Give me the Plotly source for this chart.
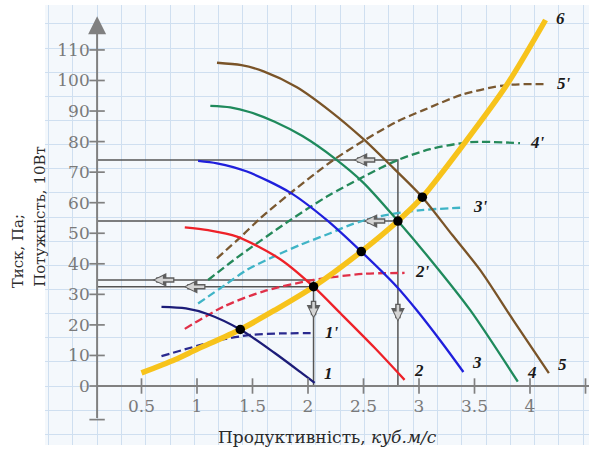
import plotly.graph_objects as go

# ---------------- data ----------------
q1 = [0.68, 0.9, 1.1, 1.39, 1.7, 1.93, 2.06]
h1 = [25.9, 25.4, 23.5, 18.5, 10.8, 4.6, 1.0]
q1p = [0.68, 1.0, 1.2, 1.48, 1.75, 2.06]
p1 = [9.8, 13.1, 15.0, 16.7, 17.2, 17.3]

q2 = [0.89, 1.1, 1.36, 1.75, 2.05, 2.3, 2.6, 2.87]
h2 = [51.9, 51.0, 48.9, 41.5, 32.5, 23.5, 12.5, 2.0]
q2p = [0.89, 1.24, 1.6, 2.05, 2.5, 2.87]
p2 = [18.7, 26.0, 31.0, 34.7, 36.7, 37.0]

q3 = [1.01, 1.18, 1.45, 1.84, 2.17, 2.48, 2.80, 2.98, 3.2, 3.40]
h3 = [73.7, 72.9, 70.2, 63.3, 54.3, 44.0, 32.5, 24.8, 14.5, 4.6]
q3p = [1.01, 1.25, 1.45, 1.7, 1.93, 2.2, 2.4, 2.65, 3.0, 3.40]
p3 = [27.0, 33.0, 38.0, 42.5, 46.2, 50.0, 53.0, 55.6, 57.5, 58.4]

q4 = [1.12, 1.3, 1.48, 1.7, 1.95, 2.24, 2.5, 2.81, 3.1, 3.46, 3.89]
h4 = [91.7, 91.2, 89.6, 86.5, 81.8, 74.5, 66.5, 54.0, 41.5, 24.9, 1.4]
q4p = [1.10, 1.36, 1.84, 2.17, 2.5, 2.81, 3.1, 3.46, 3.91]
p4 = [34.7, 42.0, 54.3, 62.0, 68.5, 74.0, 77.5, 79.8, 79.5]

q5 = [1.18, 1.4, 1.6, 1.9, 2.2, 2.5, 2.77, 3.03, 3.3, 3.55, 3.85, 4.17]
h5 = [105.8, 105.0, 103.0, 97.8, 90.0, 80.8, 71.3, 61.8, 49.4, 38.0, 21.5, 4.2]
q5p = [1.18, 1.4, 1.57, 1.84, 2.23, 2.51, 2.8, 3.04, 3.4, 3.79, 4.15]
p5 = [41.8, 49.0, 54.9, 63.1, 74.0, 80.5, 86.5, 90.3, 95.5, 98.5, 98.8]

q6 = [0.5, 0.8, 1.0, 1.39, 1.7, 2.05, 2.48, 2.81, 3.03, 3.41, 3.79, 4.14]
h6 = [4.3, 8.6, 12.0, 18.5, 24.8, 32.5, 44.0, 54.0, 61.8, 79.5, 98.5, 119.8]

# operating points (intersections with curve 6)
op_q = [1.39, 2.05, 2.48, 2.81, 3.03]
op_h = [18.5, 32.5, 44.0, 54.0, 61.8]

# read-off guides
guide_q = [2.05, 2.81]
guide_power = [34.7, 74.0]
guide_head = [32.5, 54.0]
# arrow heads (left arrows: q of the tip; down arrows: h of the tip)
arrow_q_power = [0.60, 2.41]
arrow_q_head = [0.88, 2.50]
arrow_h_down = [22.0, 21.0]
ARROW_LEN_Q = 0.21
ARROW_LEN_H = 6.4

x_ticks = [0.5, 1, 1.5, 2, 2.5, 3, 3.5, 4, 4.5]
x_tick_text = ["0.5", "1", "1.5", "2", "2.5", "3", "3.5", "4", "4.5"]
y_ticks = [0, 10, 20, 30, 40, 50, 60, 70, 80, 90, 100, 110]
y_tick_text = [str(v) for v in y_ticks]

axis_x = 0.1          # where the vertical axis crosses
axis_bottom = -11.0   # lower end of the vertical axis
axis_top = 121.0
X0, X1 = -0.3694, 4.5315
Y0, Y1 = -19.31, 124.71

# ---------------- figure ----------------
fig = go.Figure()

GUIDE = "#555555"
for gq, gp, gh in zip(guide_q, guide_power, guide_head):
    fig.add_trace(go.Scatter(x=[axis_x, gq, gq], y=[gp, gp, 0], mode="lines",
                             line=dict(color=GUIDE, width=1.5), hoverinfo="skip"))
    fig.add_trace(go.Scatter(x=[axis_x, gq], y=[gh, gh], mode="lines",
                             line=dict(color=GUIDE, width=1.5), hoverinfo="skip"))

curves = [
    (q1p, p1, "#2a2a8f", True, "1'"),
    (q2p, p2, "#e03048", True, "2'"),
    (q3p, p3, "#3fb4c6", True, "3'"),
    (q4p, p4, "#25895a", True, "4'"),
    (q5p, p5, "#7a5830", True, "5'"),
    (q1, h1, "#1c1c78", False, "1"),
    (q2, h2, "#ee2128", False, "2"),
    (q3, h3, "#1f1fdc", False, "3"),
    (q4, h4, "#1f8a5c", False, "4"),
    (q5, h5, "#7a5428", False, "5"),
]
for qx, hy, col, dashed, name in curves:
    fig.add_trace(go.Scatter(
        x=qx, y=hy, mode="lines", name=name,
        line=dict(color=col, width=2.3, shape="spline", smoothing=0.8,
                  dash="8px,4px" if dashed else "solid"),
        hoverinfo="skip"))

fig.add_trace(go.Scatter(x=q6, y=h6, mode="lines", name="6",
                         line=dict(color="#f7c31b", width=5.5, shape="spline", smoothing=0.8)))
fig.add_trace(go.Scatter(x=op_q, y=op_h, mode="markers",
                         marker=dict(color="black", size=9.5)))

# axis tick marks (on secondary overlaid axes so those axes get drawn)
fig.add_trace(go.Scatter(x=x_ticks, y=[0] * len(x_ticks), mode="markers",
                         marker=dict(symbol="line-ns", size=11,
                                     line=dict(color="#808080", width=1.7)),
                         xaxis="x2", yaxis="y2", hoverinfo="skip"))
fig.add_trace(go.Scatter(x=[axis_x] * (len(y_ticks) + 1), y=y_ticks + [axis_bottom],
                         mode="markers",
                         marker=dict(symbol="line-ew", size=11,
                                     line=dict(color="#808080", width=1.7)),
                         xaxis="x2", yaxis="y2", hoverinfo="skip"))

# axis lines
fig.add_shape(type="line", x0=axis_x, x1=X1, y0=0, y1=0, xref="x", yref="y",
              line=dict(color="#808080", width=2))
fig.add_annotation(x=axis_x, y=axis_top, ax=axis_x, ay=axis_bottom, xref="x", yref="y",
                   axref="x", ayref="y", text="", showarrow=True,
                   arrowhead=2, arrowsize=1.8, arrowwidth=2, arrowcolor="#808080")


# read-off arrows: dark outline + light fill
def block_arrow(x_tip, y_tip, x_tail, y_tail):
    fig.add_annotation(x=x_tip, y=y_tip, ax=x_tail, ay=y_tail, xref="x", yref="y",
                       axref="x", ayref="y", text="", showarrow=True,
                       arrowhead=2, arrowsize=0.5, arrowwidth=5.5, arrowcolor="#5e5e5e")
    fig.add_annotation(x=x_tip, y=y_tip, ax=x_tail, ay=y_tail, xref="x", yref="y",
                       axref="x", ayref="y", text="", showarrow=True, standoff=2.2,
                       startstandoff=1.3,
                       arrowhead=2, arrowsize=0.62, arrowwidth=2.6, arrowcolor="#d4d4d4")


for aq, gp in zip(arrow_q_power, guide_power):
    block_arrow(aq, gp, aq + ARROW_LEN_Q, gp)
for aq, gh in zip(arrow_q_head, guide_head):
    block_arrow(aq, gh, aq + ARROW_LEN_Q, gh)
for gq, ah in zip(guide_q, arrow_h_down):
    block_arrow(gq, ah, gq, ah + ARROW_LEN_H)

# curve labels
LABEL_FONT = dict(family="Liberation Serif", size=17, color="#1a1a1a")
for qx, hy, col, dashed, name in curves:
    fig.add_annotation(x=qx[-1], y=hy[-1], text=f"<b><i>{name}</i></b>", showarrow=False,
                       xanchor="left", xshift=8 if dashed else 7,
                       yshift=1 if dashed else 9, font=LABEL_FONT)
fig.add_annotation(x=q6[-1], y=h6[-1], text="<b><i>6</i></b>", showarrow=False,
                   xanchor="left", xshift=8, yshift=2, font=LABEL_FONT)

# axis titles
TITLE_FONT = dict(family="DejaVu Serif", size=15, color="#2a2a2a")
fig.add_annotation(xref="paper", yref="paper", x=-0.048, y=0.44, text="Тиск, Па;",
                   textangle=-90, showarrow=False, font=TITLE_FONT,
                   xanchor="center", yanchor="middle")
fig.add_annotation(xref="paper", yref="paper", x=-0.008, y=0.52, text="Потужність, 10Вт",
                   textangle=-90, showarrow=False, font=TITLE_FONT,
                   xanchor="center", yanchor="middle")
fig.add_annotation(xref="paper", yref="paper", x=0.52, y=0.018,
                   text="Продуктивність, <i>куб.м/с</i>", showarrow=False,
                   xanchor="center", yanchor="middle",
                   font=dict(family="DejaVu Serif", size=17, color="#2a2a2a"))

GRID = "#cfdff0"
TICKFONT = dict(family="DejaVu Serif", size=17, color="#7a7a7a")
fig.update_layout(
    width=589, height=450,
    margin=dict(l=45, r=0, t=5, b=5),
    paper_bgcolor="white",
    plot_bgcolor="#f4f8fc",
    showlegend=False,
    xaxis=dict(range=[X0, X1], showticklabels=False, ticks="", showline=False,
               zeroline=False, showgrid=True, gridcolor=GRID, gridwidth=1,
               tickmode="linear", tick0=axis_x, dtick=0.219, automargin=False),
    yaxis=dict(range=[Y0, Y1], showticklabels=False, ticks="", showline=False,
               zeroline=False, showgrid=True, gridcolor=GRID, gridwidth=1,
               tickmode="linear", tick0=0, dtick=7.9, automargin=False),
    xaxis2=dict(overlaying="x", range=[X0, X1], anchor="free",
                position=(0 - Y0) / (Y1 - Y0), automargin=False,
                tickmode="array", tickvals=x_ticks, ticktext=x_tick_text,
                showgrid=False, zeroline=False, showline=False,
                ticks="outside", ticklen=5, tickcolor="rgba(0,0,0,0)",
                tickfont=TICKFONT),
    yaxis2=dict(overlaying="y", range=[Y0, Y1], anchor="free", side="left",
                position=(axis_x - X0) / (X1 - X0), automargin=False,
                tickmode="array", tickvals=y_ticks, ticktext=y_tick_text,
                showgrid=False, zeroline=False, showline=False,
                ticks="outside", ticklen=4, tickcolor="rgba(0,0,0,0)",
                tickfont=TICKFONT),
)

fig.write_html("out.html", config={"displayModeBar": False},
               post_script="document.body.style.margin='0px';document.body.style.overflow='hidden';")
